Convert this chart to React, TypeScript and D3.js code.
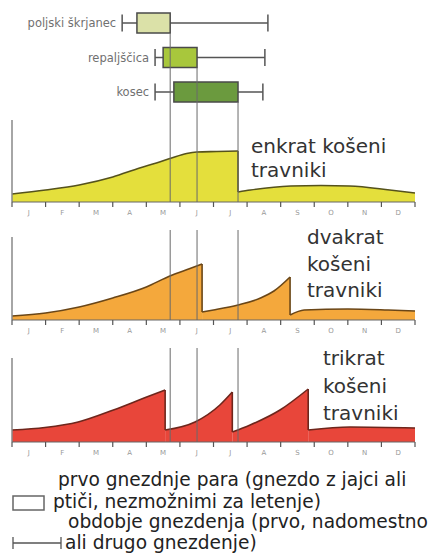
import React from 'react'
import * as d3 from 'd3'

// month initials along the bottom of each panel
const months = ['J', 'F', 'M', 'A', 'M', 'J', 'J', 'A', 'S', 'O', 'N', 'D']

// nesting periods in months from 1 Jan (whisker = nesting season, box = first nesting)
const species = ['poljski škrjanec', 'repaljščica', 'kosec']
const whiskerFrom = [3.28, 4.26, 4.26]
const boxFrom = [3.72, 4.5, 4.82]
const boxTo = [4.71, 5.51, 6.73]
const whiskerTo = [7.62, 7.53, 7.47]
const boxColors = ['#dbe1a8', '#a8c73c', '#6b9a3e']

// vegetation height through the year, one list of segments per mowing regime
const enkrat: [number, number][][] = [
  [[0, 8], [1, 12], [2, 17], [3, 25], [3.8, 34], [4.3, 39], [4.75, 44], [5.2, 48.5], [5.5, 50], [6.1, 50.5], [6.73, 51]],
  [[6.73, 10], [7.1, 12], [8.3, 16], [9.2, 16.5], [10.05, 16], [11.25, 12], [12, 9]],
]
const dvakrat: [number, number][][] = [
  [[0, 4], [1, 7], [2, 13], [3, 22], [4, 33], [4.7, 44], [5.3, 51.5], [5.66, 56]],
  [[5.66, 8], [6, 10], [6.73, 15], [7.4, 22], [7.8, 29], [8.28, 43]],
  [[8.28, 5], [8.7, 10], [10, 11], [11.2, 10], [12, 9]],
]
const trikrat: [number, number][][] = [
  [[0, 12], [0.98, 14.5], [1.97, 20], [3.02, 32], [4.01, 45], [4.56, 52]],
  [[4.56, 12], [5.45, 20], [6.19, 37], [6.56, 50]],
  [[6.56, 10], [7.09, 17], [7.98, 32], [8.82, 53]],
  [[8.82, 12], [10.07, 15], [12, 14]],
]

const panelTitles = [['enkrat košeni', 'travniki'], ['dvakrat', 'košeni', 'travniki'], ['trikrat', 'košeni', 'travniki']]

const legendLines = [
  'prvo gnezdnje para (gnezdo z jajci ali',
  'ptiči, nezmožnimi za letenje)',
  'obdobje gnezdenja (prvo, nadomestno',
  'ali drugo gnezdenje)',
]

const W = 433
const H = 560

export default function App() {
  const x = d3.scaleLinear().domain([0, 12]).range([12, 415])
  const bandY = d3.scalePoint<string>().domain(species).range([23, 92])
  const boxH = 20
  const capH = 17

  const panels = [
    { data: enkrat, base: 202, top: 120, lineTop: 0, fill: '#e4df3c', stroke: '#55521c', title: { x: 251, y: 153, dy: 24 } },
    { data: dvakrat, base: 320, top: 237, lineTop: 230, fill: '#f4a83c', stroke: '#6a4617', title: { x: 307, y: 244, dy: 26.5 } },
    { data: trikrat, base: 442, top: 358, lineTop: 348, fill: '#e8463a', stroke: '#6e261c', title: { x: 323, y: 365, dy: 27.5 } },
  ]

  const font = '"DejaVu Sans", Verdana, sans-serif'

  return (
    <svg width={W} height={H} style={{ position: 'absolute', left: 0, top: 0, background: '#fff' }}>
      {/* nesting periods */}
      {species.map((s, i) => {
        const cy = bandY(s)!
        return (
          <g key={s}>
            <text x={x(whiskerFrom[i]) - 6} y={cy + 4} textAnchor="end" fontFamily={font} fontSize={11.5} fill="#707070">
              {s}
            </text>
            <line x1={x(whiskerFrom[i])} x2={x(whiskerTo[i])} y1={cy} y2={cy} stroke="#555" strokeWidth={1.5} />
            <line x1={x(whiskerFrom[i])} x2={x(whiskerFrom[i])} y1={cy - capH / 2} y2={cy + capH / 2} stroke="#555" strokeWidth={1.5} />
            <line x1={x(whiskerTo[i])} x2={x(whiskerTo[i])} y1={cy - capH / 2} y2={cy + capH / 2} stroke="#555" strokeWidth={1.5} />
            <rect
              x={x(boxFrom[i])}
              y={cy - boxH / 2}
              width={x(boxTo[i]) - x(boxFrom[i])}
              height={boxH}
              fill={boxColors[i]}
              stroke="#4a4a4a"
              strokeWidth={1.5}
            />
          </g>
        )
      })}

      {panels.map((p, pi) => {
        const y = d3.scaleLinear().domain([0, 82]).range([p.base, p.base - 82])
        const area = d3
          .area<[number, number]>()
          .x((d) => x(d[0]))
          .y0(p.base)
          .y1((d) => y(d[1]))
          .curve(d3.curveMonotoneX)
        const line = d3
          .line<[number, number]>()
          .x((d) => x(d[0]))
          .y((d) => y(d[1]))
          .curve(d3.curveMonotoneX)
        const drops = p.data.slice(1).map((seg, k) => {
          const prev = p.data[k]
          const a = prev[prev.length - 1]
          return { x: x(seg[0][0]), y1: y(a[1]), y2: y(seg[0][1]) }
        })
        const ticks = d3.range(0, 13)
        return (
          <g key={pi}>
            {p.data.map((seg, k) => (
              <path key={k} d={area(seg) || ''} fill={p.fill} />
            ))}
            {p.data.map((seg, k) => (
              <path key={'l' + k} d={line(seg) || ''} fill="none" stroke={p.stroke} strokeWidth={1.6} />
            ))}
            {drops.map((d, k) => (
              <line key={'d' + k} x1={d.x} x2={d.x} y1={d.y1} y2={d.y2} stroke={p.stroke} strokeWidth={1.6} />
            ))}
            {/* reference lines at the end of the first nesting */}
            {boxTo.map((m, i) => (
              <line
                key={'v' + i}
                x1={x(m)}
                x2={x(m)}
                y1={pi === 0 ? bandY(species[i])! + boxH / 2 : p.lineTop}
                y2={p.base}
                stroke="#6a6a6a"
                strokeWidth={1}
              />
            ))}
            <line x1={x(0)} x2={x(0)} y1={p.top} y2={p.base} stroke="#888" strokeWidth={1.5} />
            <line x1={x(0)} x2={x(12)} y1={p.base} y2={p.base} stroke="#666" strokeWidth={1.2} />
            {ticks.map((t) => (
              <line key={'t' + t} x1={x(t)} x2={x(t)} y1={p.base} y2={p.base + 5} stroke="#555" strokeWidth={1.2} />
            ))}
            {months.map((m, i) => (
              <text key={'m' + i} x={x(i + 0.5)} y={p.base + 13} textAnchor="middle" fontFamily={font} fontSize={7} fill="#999">
                {m}
              </text>
            ))}
            {panelTitles[pi].map((t, k) => (
              <text key={'h' + k} x={p.title.x} y={p.title.y + k * p.title.dy} fontFamily={font} fontSize={20} fill="#333">
                {t}
              </text>
            ))}
          </g>
        )
      })}

      {/* legend */}
      <rect x={13} y={496} width={31} height={14} fill="#fff" stroke="#666" strokeWidth={1.5} />
      <line x1={13} x2={61} y1={543} y2={543} stroke="#555" strokeWidth={1.3} />
      <line x1={13} x2={13} y1={537} y2={549} stroke="#555" strokeWidth={1.3} />
      <line x1={61} x2={61} y1={537} y2={549} stroke="#555" strokeWidth={1.3} />
      {legendLines.map((t, i) => (
        <text
          key={'lg' + i}
          x={[58, 53, 68, 65][i]}
          y={[486, 508, 528, 549][i]}
          fontFamily={font}
          fontSize={18.6}
          fill="#222"
        >
          {t}
        </text>
      ))}
    </svg>
  )
}
